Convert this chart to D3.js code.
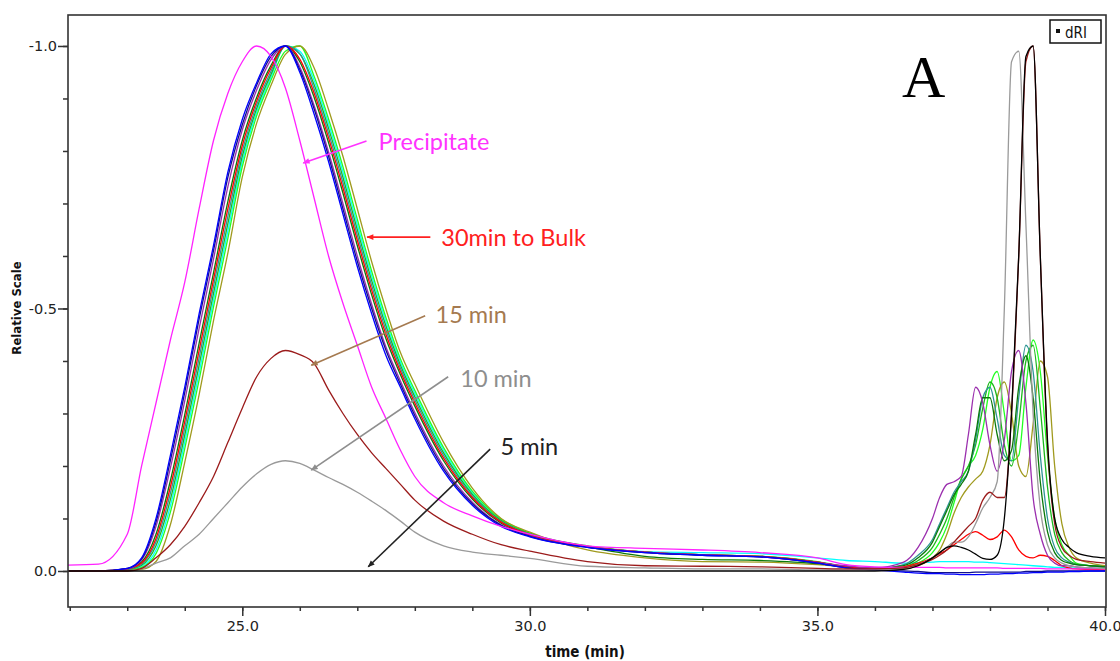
<!DOCTYPE html>
<html>
<head>
<meta charset="utf-8">
<script src="https://cdn.jsdelivr.net/npm/d3@7"></script>
<style>
  body { margin: 0; background: #fff; }
  svg { display: block; }
  .tick text { font-family: 'DejaVu Sans', sans-serif; font-size: 14.5px; fill: #222; }
  .tick line { stroke: #333; stroke-width: 1.5; }
</style>
</head>
<body>
<script>
// elution time (min), shared by every trace
var times = [21.97, 22.5, 23.0, 23.25, 23.5, 23.75, 24.0, 24.25, 24.5, 24.75,
  25.0, 25.25, 25.5, 25.75, 26.0, 26.25, 26.5, 26.75, 27.0, 27.25,
  27.5, 27.75, 28.0, 28.5, 29.0, 29.5, 30.0, 31.0, 32.0, 33.0,
  34.0, 35.0, 35.5, 36.0, 36.5, 36.75,
  37.0, 37.125, 37.25, 37.375, 37.5, 37.625, 37.75, 37.875, 38.0, 38.125,
  38.25, 38.375, 38.5, 38.625, 38.75, 38.875, 39.0, 39.125, 39.25, 39.375,
  39.5, 39.75, 40.0];

// dRI signal magnitude (plotted on the negative relative scale)
var blue = [0, 0, .005, .025, .10, .22, .35, .49, .62, .76, .86, .93, .985, 1.0, .95, .87, .78, .68,
  .58, .49, .41, .35, .29, .19, .125, .085, .065, .045, .035, .03, .027, .015, .006, .002, -.002, -.004,
  -.005, -.005, -.006, -.006, -.007, -.007, -.007, -.007, -.006, -.006, -.005, -.005,
  -.004, -.004, -.003, -.003, -.002, -.002, -.002, -.001, -.001, 0, 0];
var navy = [0, 0, .005, .023, .093, .21, .34, .48, .61, .75, .85, .925, .98, 1.0, .955, .88, .79, .69,
  .59, .5, .42, .356, .296, .195, .128, .087, .066, .045, .035, .03, .027, .015, .006, .002, 0, -.001,
  -.003, -.003, -.003, -.003, -.003, -.003, -.002, -.002, -.002, -.002, -.002, -.002,
  -.002, -.001, -.001, -.001, 0, 0, 0, 0, 0, 0, 0];
var purple = [0, 0, .004, .021, .085, .196, .324, .462, .594, .732, .84, .916, .974, 1.0, .96, .886, .798, .70,
  .60, .508, .426, .362, .302, .20, .131, .088, .067, .046, .036, .031, .027, .016, .01, .006, .017, .045,
  .10, .14, .165, .17, .18, .26, .35, .32, .24, .19, .25, .38,
  .42, .32, .14, .07, .03, .015, .01, .01, .008, .006, .005];
var darkgreen = [0, 0, .004, .017, .07, .172, .298, .434, .568, .704, .82, .902, .963, 1.0, .97, .902, .816, .72,
  .62, .526, .442, .374, .314, .21, .137, .091, .068, .046, .028, .022, .02, .014, .008, .005, .01, .025,
  .055, .085, .115, .145, .165, .19, .26, .33, .33, .26, .21, .23,
  .35, .41, .33, .17, .075, .035, .02, .015, .012, .01, .008];
var red = [0, 0, .004, .015, .062, .16, .285, .42, .555, .69, .81, .895, .958, 1.0, .975, .91, .825, .73,
  .63, .535, .45, .38, .32, .215, .14, .093, .069, .047, .036, .031, .028, .017, .008, .005, .008, .015,
  .025, .033, .04, .05, .06, .07, .075, .068, .06, .065, .078, .065,
  .04, .028, .025, .03, .028, .02, .01, .006, .004, .003, .002];
var teal = [0, 0, .003, .013, .055, .148, .272, .406, .542, .676, .80, .888, .952, 1.0, .985, .918, .834, .74,
  .64, .544, .458, .386, .326, .22, .143, .094, .07, .047, .036, .031, .028, .017, .008, .004, .012, .03,
  .06, .09, .12, .15, .17, .19, .25, .33, .35, .29, .22, .21,
  .33, .43, .38, .22, .10, .045, .025, .017, .012, .01, .008];
var green = [0, 0, .003, .011, .048, .136, .259, .392, .529, .662, .79, .881, .946, 1.0, .985, .926, .843, .75,
  .65, .553, .466, .392, .332, .225, .146, .096, .071, .047, .036, .031, .028, .017, .008, .005, .008, .02,
  .045, .07, .10, .14, .175, .20, .24, .31, .36, .33, .24, .20,
  .28, .40, .43, .31, .16, .07, .035, .02, .013, .01, .008];
var cyan = [0, 0, .003, .009, .04, .124, .246, .378, .516, .648, .78, .874, .941, 1.0, .99, .934, .852, .76,
  .66, .562, .474, .398, .338, .23, .149, .097, .071, .047, .037, .035, .033, .025, .02, .018, .015, .016,
  .017, .018, .018, .018, .018, .018, .017, .017, .016, .015, .014, .013,
  .012, .011, .01, .009, .008, .007, .007, .006, .006, .005, .005];
var lime = [0, 0, .002, .007, .033, .112, .233, .364, .503, .634, .77, .867, .935, .99, 1.0, .942, .861, .77,
  .67, .571, .482, .404, .344, .235, .152, .099, .072, .048, .036, .031, .028, .018, .008, .004, .006, .015,
  .035, .055, .085, .13, .175, .20, .22, .27, .35, .38, .30, .21,
  .22, .35, .44, .38, .22, .10, .05, .03, .015, .01, .008];
var olive = [0, 0, .002, .003, .018, .088, .207, .336, .477, .606, .75, .853, .925, .984, 1.0, .958, .879, .79,
  .69, .589, .498, .416, .356, .245, .158, .10, .074, .04, .025, .018, .017, .012, .008, .003, .004, .01,
  .025, .04, .07, .11, .14, .16, .175, .19, .24, .33, .36, .30,
  .20, .18, .28, .40, .37, .20, .09, .045, .025, .015, .01];
var precipitate = [.011, .013, .07, .2, .32, .44, .55, .69, .82, .91, .97, 1.0, .98, .92, .82, .71, .6, .51,
  .43, .35, .29, .23, .18, .13, .105, .085, .07, .048, .043, .04, .035, .025, .012, .008, .007, .007,
  .007, .007, .006, .006, .006, .006, .006, .006, .006, .006, .005, .005,
  .005, .005, .005, .005, .004, .004, .004, .004, .004, .004, .004];
var min15 = [0, 0, 0, .005, .025, .05, .085, .13, .18, .245, .31, .37, .405, .42, .412, .395, .345, .30,
  .26, .225, .195, .165, .135, .095, .07, .05, .038, .018, .01, .009, .008, .005, .004, .004, .006, .012,
  .022, .03, .04, .055, .07, .085, .10, .135, .15, .14, .14, .3,
  .6, .97, 1.0, .6, .24, .09, .045, .03, .022, .018, .015];
var min10 = [0, 0, 0, .004, .015, .025, .048, .07, .1, .13, .16, .185, .203, .21, .205, .192, .178, .165,
  .15, .133, .115, .095, .074, .048, .036, .03, .024, .009, .006, .004, .004, .002, .002, .002, .005, .012,
  .025, .035, .045, .055, .055, .065, .09, .12, .14, .17, .5, .97,
  .99, .66, .3, .12, .05, .025, .015, .01, .008, .006, .005];
var min5 = [0, 0, 0, 0, 0, 0, 0, 0, 0, 0, 0, 0, 0, 0, 0, 0, 0, 0,
  0, 0, 0, 0, 0, 0, 0, 0, 0, 0, 0, 0, 0, 0, 0, 0, .003, .01,
  .025, .035, .045, .048, .045, .04, .032, .024, .022, .03, .1, .3,
  .6, .98, 1.0, .6, .25, .1, .06, .045, .035, .028, .025];

var xMinor = d3.range(22, 41, 1);
var xMajor = [25, 30, 35, 40];
var yMinor = d3.range(-10, 1).map(function(d) { return d / 10; });
var yMajor = [-1.0, -0.5, 0.0];

var annotations = ['Precipitate', '30min to Bulk', '15 min', '10 min', '5 min'];

// drawing order and colours
var traces = [
  {values: cyan, color: '#00ffff'},
  {values: lime, color: '#22ff22'},
  {values: olive, color: '#a09a1e'},
  {values: green, color: '#1db81d'},
  {values: teal, color: '#2f9595'},
  {values: darkgreen, color: '#0a7a0a'},
  {values: red, color: '#ff0000'},
  {values: purple, color: '#9b2fae'},
  {values: navy, color: '#10108c'},
  {values: blue, color: '#0000ff'},
  {values: precipitate, color: '#ff22ff'},
  {values: min10, color: '#9a9a9a'},
  {values: min15, color: '#9b1b1b'},
  {values: min5, color: '#000000'}
];

var svg = d3.select('body').append('svg')
  .attr('width', 1120)
  .attr('height', 661);

var plot = {left: 68, top: 15, right: 1106, bottom: 607};

var x = d3.scaleLinear().domain([21.97, 40.0]).range([68, 1105]);
var y = d3.scaleLinear().domain([0.0686, -1.059]).range([607, 15]);

svg.append('clipPath').attr('id', 'clip')
  .append('rect')
  .attr('x', plot.left).attr('y', plot.top)
  .attr('width', plot.right - plot.left)
  .attr('height', plot.bottom - plot.top);

// axes
svg.append('g')
  .attr('transform', 'translate(0,' + plot.bottom + ')')
  .call(d3.axisBottom(x).tickValues(xMinor).tickSize(4).tickFormat(''))
  .call(function(g) { g.select('.domain').remove(); });

svg.append('g')
  .attr('transform', 'translate(0,' + plot.bottom + ')')
  .call(d3.axisBottom(x).tickValues(xMajor).tickSize(9).tickPadding(5)
    .tickFormat(function(d) { return d.toFixed(1); }))
  .call(function(g) { g.select('.domain').remove(); });

svg.append('g')
  .attr('transform', 'translate(' + plot.left + ',0)')
  .call(d3.axisLeft(y).tickValues(yMinor).tickSize(5).tickFormat(''))
  .call(function(g) { g.select('.domain').remove(); });

svg.append('g')
  .attr('transform', 'translate(' + plot.left + ',0)')
  .call(d3.axisLeft(y).tickValues(yMajor).tickSize(10).tickPadding(1)
    .tickFormat(function(d) { return d.toFixed(1); }))
  .call(function(g) { g.select('.domain').remove(); });

// traces
var line = d3.line()
  .x(function(d) { return x(d[0]); })
  .y(function(d) { return y(-d[1]); })
  .curve(d3.curveMonotoneX);

var curves = svg.append('g').attr('clip-path', 'url(#clip)');
traces.forEach(function(t) {
  curves.append('path')
    .datum(times.map(function(tm, i) { return [tm, t.values[i]]; }))
    .attr('d', line)
    .attr('fill', 'none')
    .attr('stroke', t.color)
    .attr('stroke-width', 1.3)
    .attr('stroke-linejoin', 'round');
});

// frame
svg.append('rect')
  .attr('x', plot.left).attr('y', plot.top)
  .attr('width', plot.right - plot.left)
  .attr('height', plot.bottom - plot.top)
  .attr('fill', 'none')
  .attr('stroke', '#333')
  .attr('stroke-width', 1.6);

// axis titles
svg.append('text')
  .attr('x', 585).attr('y', 657)
  .attr('text-anchor', 'middle')
  .style('font-family', "'DejaVu Sans Condensed', 'DejaVu Sans', sans-serif")
  .style('font-weight', 'bold')
  .style('font-size', '15px')
  .style('fill', '#111')
  .text('time (min)');

svg.append('text')
  .attr('transform', 'translate(21,308) rotate(-90)')
  .attr('text-anchor', 'middle')
  .style('font-family', "'DejaVu Sans Condensed', 'DejaVu Sans', sans-serif")
  .style('font-weight', 'bold')
  .style('font-size', '13px')
  .style('fill', '#111')
  .text('Relative Scale');

// legend box
svg.append('rect')
  .attr('x', 1050).attr('y', 20).attr('width', 51).attr('height', 23)
  .attr('fill', '#fff').attr('stroke', '#111').attr('stroke-width', 1.5);
svg.append('rect')
  .attr('x', 1056).attr('y', 29).attr('width', 4).attr('height', 4)
  .attr('fill', '#111');
svg.append('text')
  .attr('x', 1065).attr('y', 38)
  .style('font-family', "'DejaVu Sans Condensed', 'DejaVu Sans', sans-serif")
  .style('font-size', '15px')
  .style('fill', '#111')
  .text('dRI');

// panel letter
svg.append('text')
  .attr('x', 902).attr('y', 97)
  .style('font-family', "'Liberation Serif', 'DejaVu Serif', serif")
  .style('font-size', '60px')
  .style('fill', '#000')
  .text('A');

// annotations: label position and arrow in data units
var notes = [
  {text: annotations[0], color: '#ff33ff', lx: 27.37, ly: -0.802, from: [27.16, -0.819], to: [26.06, -0.777]},
  {text: annotations[1], color: '#ff2020', lx: 28.46, ly: -0.619, from: [28.27, -0.636], to: [27.17, -0.636]},
  {text: annotations[2], color: '#a57a50', lx: 28.36, ly: -0.472, from: [28.18, -0.486], to: [26.20, -0.392]},
  {text: annotations[3], color: '#8e8e8e', lx: 28.79, ly: -0.350, from: [28.58, -0.370], to: [26.20, -0.192]},
  {text: annotations[4], color: '#222222', lx: 29.49, ly: -0.221, from: [29.31, -0.232], to: [27.19, -0.008]}
];

var defs = svg.append('defs');
notes.forEach(function(n, i) {
  defs.append('marker')
    .attr('id', 'arrow' + i)
    .attr('viewBox', '0 0 10 10')
    .attr('refX', 9).attr('refY', 5)
    .attr('markerWidth', 8).attr('markerHeight', 7)
    .attr('markerUnits', 'userSpaceOnUse')
    .attr('orient', 'auto')
    .append('path')
    .attr('d', 'M0,1 L10,5 L0,9 Z')
    .attr('fill', n.color);

  svg.append('line')
    .attr('x1', x(n.from[0])).attr('y1', y(n.from[1]))
    .attr('x2', x(n.to[0])).attr('y2', y(n.to[1]))
    .attr('stroke', n.color)
    .attr('stroke-width', 1.6)
    .attr('marker-end', 'url(#arrow' + i + ')');

  svg.append('text')
    .attr('x', x(n.lx)).attr('y', y(n.ly))
    .style('font-family', 'Lato, sans-serif')
    .style('font-size', '23.5px')
    .style('fill', n.color)
    .text(n.text);
});
</script>
</body>
</html>
